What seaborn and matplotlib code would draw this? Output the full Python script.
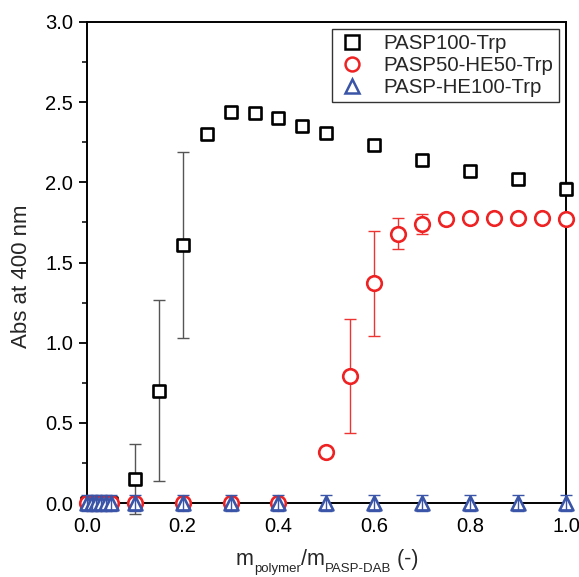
import matplotlib
matplotlib.use("Agg")
import matplotlib.pyplot as plt
import seaborn as sns
import pandas as pd
from matplotlib.ticker import MultipleLocator, FormatStrFormatter
from matplotlib.lines import Line2D

# Data
x_pasp100 = [0, 0.01, 0.02, 0.03, 0.04, 0.05, 0.1, 0.15, 0.2, 0.25, 0.3, 0.35,
             0.4, 0.45, 0.5, 0.6, 0.7, 0.8, 0.9, 1.0]
y_pasp100 = [0, 0, 0, 0, 0, 0, 0.15, 0.70, 1.61, 2.30, 2.44, 2.43,
             2.40, 2.35, 2.31, 2.23, 2.14, 2.07, 2.02, 1.96]
e_pasp100 = [0.01, 0.01, 0.01, 0.01, 0.01, 0.01, 0.22, 0.565, 0.58, 0.03, 0.01, 0.01,
             0.03, 0.01, 0.01, 0.01, 0.03, 0.03, 0.03, 0.04]

x_pasp50 = [0, 0.01, 0.02, 0.03, 0.04, 0.05, 0.1, 0.2, 0.3, 0.4, 0.5, 0.55,
            0.6, 0.65, 0.7, 0.75, 0.8, 0.85, 0.9, 0.95, 1.0]
y_pasp50 = [0, 0, 0, 0, 0, 0, 0, 0, 0, 0, 0.32, 0.79,
            1.37, 1.68, 1.74, 1.77, 1.78, 1.78, 1.78, 1.78, 1.77]
e_pasp50 = [0.01, 0.01, 0.01, 0.01, 0.01, 0.01, 0.01, 0.01, 0.01, 0.01, 0.01, 0.355,
            0.325, 0.095, 0.065, 0.01, 0.02, 0.01, 0.02, 0.01, 0.02]

x_he100 = [0, 0.01, 0.02, 0.03, 0.04, 0.05, 0.1, 0.2, 0.3, 0.4, 0.5, 0.6,
           0.7, 0.8, 0.9, 1.0]
y_he100 = [0] * 16
e_he100 = [0.05] * 16

labels = ["PASP100-Trp", "PASP50-HE50-Trp", "PASP-HE100-Trp"]
colors = ["black", "#ee2222", "#3a55a8"]
err_colors = ["#555555", "#ee3333", "#3a55a8"]
markers = ["s", "o", "^"]

sns.set_style("ticks")
plt.rcParams["font.family"] = ["Liberation Sans", "DejaVu Sans"]

fig = plt.figure(figsize=(5.79, 5.77), dpi=100)
ax = fig.add_axes([0.150, 0.128, 0.8275, 0.834])

series = [(x_pasp100, y_pasp100, e_pasp100),
          (x_pasp50, y_pasp50, e_pasp50),
          (x_he100, y_he100, e_he100)]
sizes = [85, 110, 100]

for i, (xs, ys, es) in enumerate(series):
    df = pd.DataFrame({"x": xs, "y": ys, "e": es})
    # error bars; blue ones sit on top of the triangles
    z = 5 if i == 2 else 2
    eb = ax.errorbar(df["x"], df["y"], yerr=df["e"], fmt="none",
                     ecolor=err_colors[i], elinewidth=1.0, capsize=4,
                     capthick=1.0, zorder=z)
    for art in list(eb.lines[1]) + list(eb.lines[2]):
        art.set_clip_on(False)
    sns.scatterplot(data=df, x="x", y="y", ax=ax, marker=markers[i],
                    s=sizes[i], facecolor="white",
                    edgecolor=colors[i], linewidth=1.9, zorder=3 + i * 0.1,
                    clip_on=False, legend=False)

ax.set_xlim(0, 1.0)
ax.set_ylim(0, 3.0)
ax.xaxis.set_major_locator(MultipleLocator(0.2))
ax.xaxis.set_minor_locator(MultipleLocator(0.1))
ax.yaxis.set_major_locator(MultipleLocator(0.5))
ax.yaxis.set_minor_locator(MultipleLocator(0.25))
ax.tick_params(which="major", direction="out", length=6, width=1.3,
               labelsize=14.5, colors="black", pad=4)
ax.tick_params(which="minor", direction="out", length=3.5, width=1.3)
ax.xaxis.set_major_formatter(FormatStrFormatter("%.1f"))
ax.yaxis.set_major_formatter(FormatStrFormatter("%.1f"))
for sp in ax.spines.values():
    sp.set_linewidth(1.4)
    sp.set_color("black")
    sp.set_zorder(2.5)

ax.set_xlabel("")
ax.set_ylabel("Abs at 400 nm", fontsize=16)
ax.yaxis.set_label_coords(-0.1148, 0.471)

# x label built from pieces so the subscripts can be small
renderer = fig.canvas.get_renderer()
pieces = [("m", 15.5, 0.0), ("polymer", 9.5, -0.0125), ("/m", 15.5, 0.0),
          ("PASP-DAB", 9.5, -0.0125), (" (-)", 15.5, 0.0)]
x_pos = 236 / 579
for txt, fs, dy in pieces:
    t = fig.text(x_pos, 0.0215 + dy, txt, fontsize=fs, ha="left",
                 va="baseline")
    w = t.get_window_extent(renderer).width
    x_pos += w / fig.bbox.width

handles = [Line2D([], [], linestyle="none", marker=m, markersize=10,
                  markerfacecolor="white", markeredgecolor=c, markeredgewidth=1.8)
           for m, c in zip(markers, colors)]
leg = ax.legend(handles, labels, loc="upper right", fontsize=14.7,
                frameon=True, fancybox=False, edgecolor="black",
                borderpad=0.25, labelspacing=0.15, handletextpad=0.8,
                handlelength=1.5, borderaxespad=0.35)
leg.get_frame().set_linewidth(1.0)
leg.set_zorder(10)

fig.savefig("out.png", dpi=100)
